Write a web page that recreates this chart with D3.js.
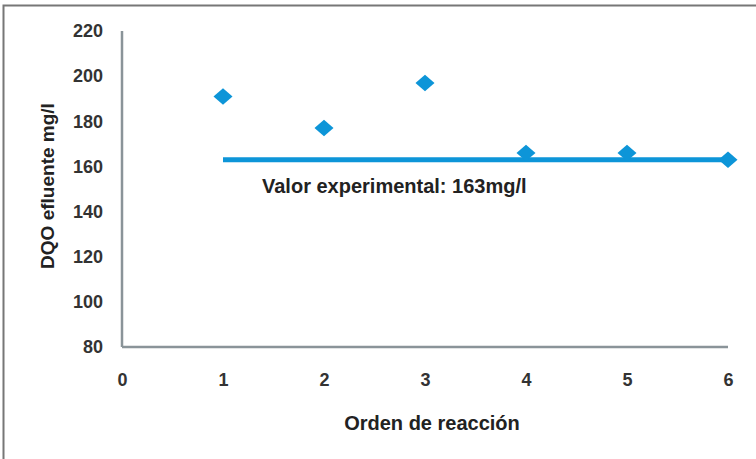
<!DOCTYPE html>
<html><head><meta charset="utf-8">
<script src="https://cdn.jsdelivr.net/npm/d3@7"></script>
<style>body{margin:0;background:#fff}svg{display:block}text{font-family:"Liberation Sans",Arial,sans-serif}</style>
</head><body><svg id="c" width="756" height="459"></svg>
<script>
const orders = [1, 2, 3, 4, 5, 6];
const dqo = [191, 177, 197, 166, 166, 163];
const experimental = 163;
const xTicks = [0, 1, 2, 3, 4, 5, 6];
const yTicks = [80, 100, 120, 140, 160, 180, 200, 220];
const labelText = "Valor experimental: 163mg/l";

const svg = d3.select("#c");
svg.append("rect").attr("x",3.5).attr("y",5.5).attr("width",800).attr("height",500)
  .attr("fill","none").attr("stroke","#777").attr("stroke-width",2);

const x = d3.scaleLinear().domain([0,6]).range([122,728]);
const y = d3.scaleLinear().domain([80,220]).range([347,31]);

svg.append("line").attr("x1",x(0)).attr("x2",x(0)).attr("y1",y(220)).attr("y2",y(80))
  .attr("stroke","#8a9499").attr("stroke-width",2.5);
svg.append("line").attr("x1",x(0)).attr("x2",x(6)).attr("y1",y(80)).attr("y2",y(80))
  .attr("stroke","#8a9499").attr("stroke-width",2.5);

const yAxis = d3.axisLeft(y).tickValues(yTicks).tickSize(0).tickPadding(19).tickFormat(d3.format("d"));
const gy = svg.append("g").attr("transform",`translate(${x(0)},0)`).call(yAxis);
gy.select(".domain").remove();
gy.selectAll("text").attr("font-size",18).attr("font-weight","bold").attr("fill","#333");

const xAxis = d3.axisBottom(x).tickValues(xTicks).tickSize(0).tickPadding(26).tickFormat(d3.format("d"));
const gx = svg.append("g").attr("transform",`translate(0,${y(80)})`).call(xAxis);
gx.select(".domain").remove();
gx.selectAll("text").attr("font-size",18).attr("font-weight","bold").attr("fill","#333");

svg.append("line").attr("x1",x(orders[0])).attr("x2",x(orders[orders.length-1]))
  .attr("y1",y(experimental)).attr("y2",y(experimental))
  .attr("stroke","#0d95d8").attr("stroke-width",5);

svg.selectAll("path.pt").data(orders).join("path").attr("class","pt")
  .attr("d", d3.symbol().type(d3.symbolSquare).size(150))
  .attr("transform",(d,i)=>`translate(${x(d)},${y(dqo[i])}) scale(1.1,0.95) rotate(45)`)
  .attr("fill","#0d95d8");

svg.append("text").attr("x",262).attr("y",193)
  .attr("font-size",20).attr("font-weight","bold").attr("fill","#222").text(labelText);

svg.append("text").attr("transform",`translate(54,186) rotate(-90)`)
  .attr("text-anchor","middle").attr("font-size",19).attr("font-weight","bold").attr("fill","#222")
  .text("DQO efluente mg/l");
svg.append("text").attr("x",432).attr("y",430).attr("text-anchor","middle")
  .attr("font-size",20).attr("font-weight","bold").attr("fill","#222").text("Orden de reacción");
</script></body></html>
